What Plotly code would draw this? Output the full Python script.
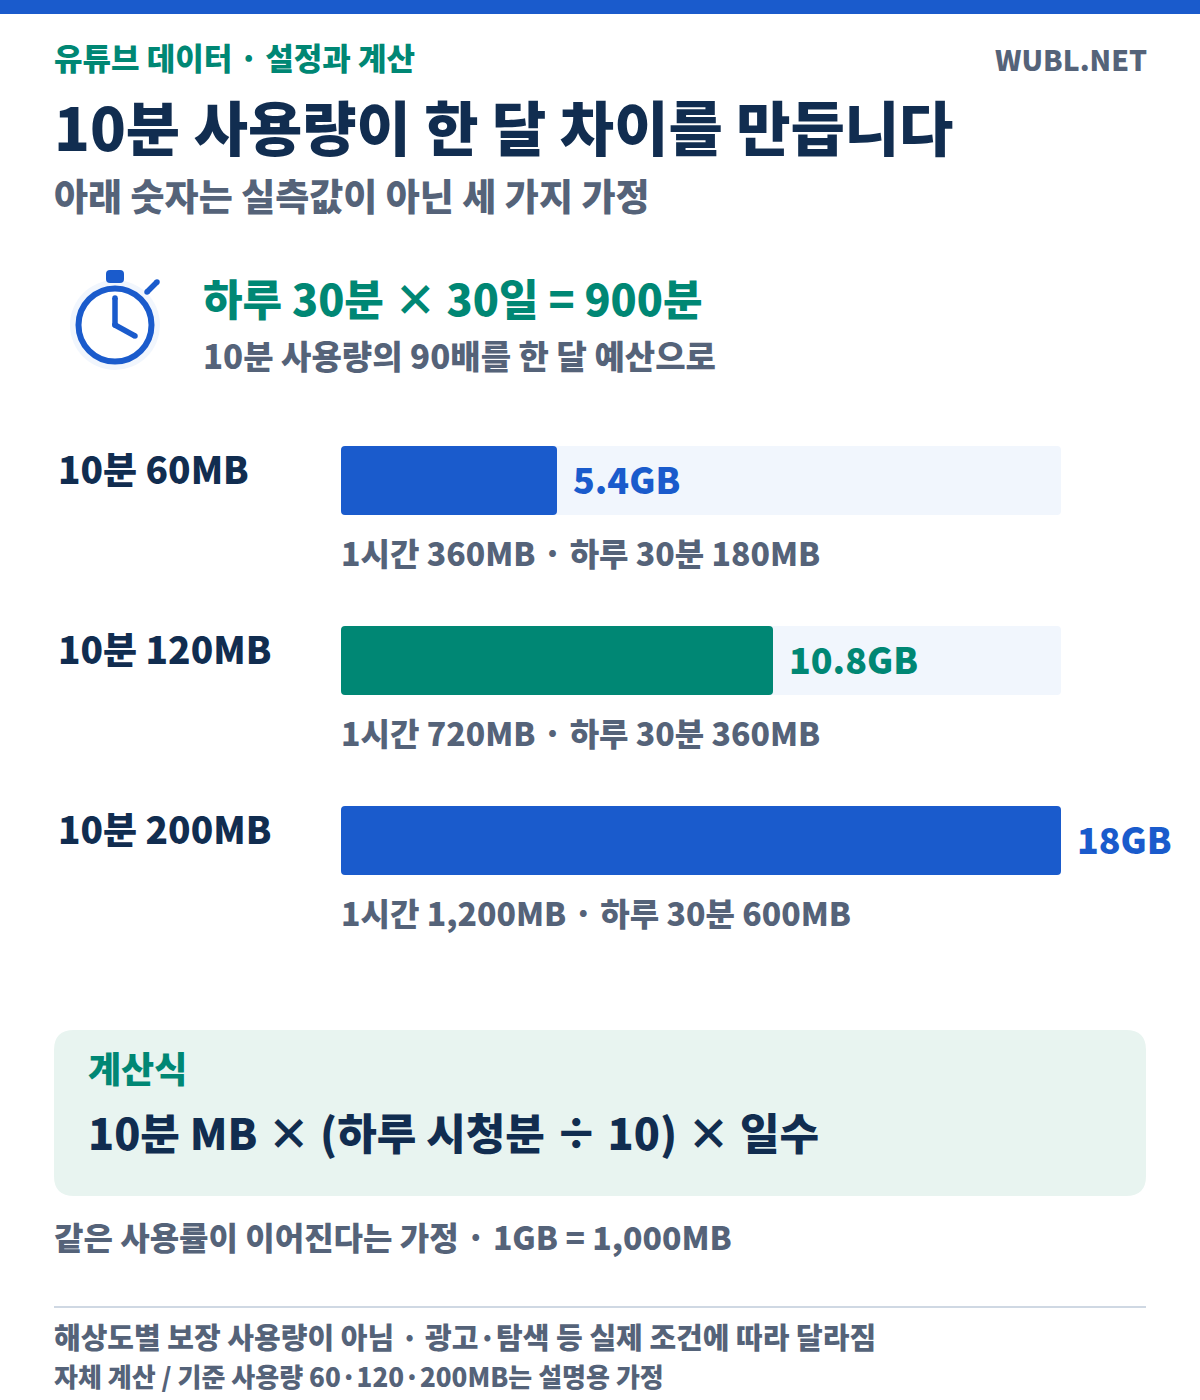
import plotly.graph_objects as go

W = 1200
H = 1400
FONT = "Noto Sans CJK KR"
WEIGHT = 800
BLUE = "#1a5bcc"
GREEN = "#008774"
NAVY = "#112d50"
GRAY = "#556379"

categories = ["10분 60MB", "10분 120MB", "10분 200MB"]
monthly_gb = [5.4, 10.8, 18]
value_labels = ["5.4GB", "10.8GB", "18GB"]
bar_colors = [BLUE, GREEN, BLUE]
notes = ["1시간 360MB · 하루 30분 180MB",
         "1시간 720MB · 하루 30분 360MB",
         "1시간 1,200MB · 하루 30분 600MB"]
track_max = [18, 18, 18]


def px(x):
    return x / W


def py(y):
    return 1 - y / H


def label(text, x, y, size, color, anchor="left"):
    return dict(text=text, x=px(x), y=py(y - 2), xref="paper", yref="paper",
                xanchor=anchor, yanchor="middle", showarrow=False, borderpad=0,
                font=dict(family=FONT, size=size, color=color, weight=WEIGHT))


def rect(x0, y0, x1, y1, color):
    return dict(type="rect", xref="paper", yref="paper", layer="below",
                x0=px(x0), x1=px(x1), y0=py(y0), y1=py(y1),
                fillcolor=color, line_width=0)


def circle(cx, cy, r, fill, line_color=None, line_width=0, layer="below"):
    return dict(type="circle", xref="paper", yref="paper", layer=layer,
                x0=px(cx - r), x1=px(cx + r), y0=py(cy - r), y1=py(cy + r),
                fillcolor=fill, line=dict(color=line_color, width=line_width))


def stroke(x0, y0, x1, y1, color, width):
    # round caps are faked with a dot on each end
    return [dict(type="line", xref="paper", yref="paper", x0=px(x0), x1=px(x1),
                 y0=py(y0), y1=py(y1), line=dict(color=color, width=width)),
            circle(x0, y0, width / 2, color, layer="above"),
            circle(x1, y1, width / 2, color, layer="above")]


def round_rect(x0, y0, x1, y1, r, color):
    p = (f"M {px(x0 + r)} {py(y0)} L {px(x1 - r)} {py(y0)} "
         f"Q {px(x1)} {py(y0)} {px(x1)} {py(y0 + r)} L {px(x1)} {py(y1 - r)} "
         f"Q {px(x1)} {py(y1)} {px(x1 - r)} {py(y1)} L {px(x0 + r)} {py(y1)} "
         f"Q {px(x0)} {py(y1)} {px(x0)} {py(y1 - r)} L {px(x0)} {py(y0 + r)} "
         f"Q {px(x0)} {py(y0)} {px(x0 + r)} {py(y0)} Z")
    return dict(type="path", xref="paper", yref="paper", layer="below", path=p,
                fillcolor=color, line_width=0)


def corner_mask(x, y, dy, r=4):
    # plotly only rounds the far end of a bar, so the near corners get a white notch
    return dict(type="path", xref="paper", yref="paper", layer="above",
                path=(f"M {px(x)} {py(y)} L {px(x + r)} {py(y)} "
                      f"Q {px(x)} {py(y)} {px(x)} {py(y + dy * r)} Z"),
                fillcolor="white", line_width=0)


fig = go.Figure()
fig.add_trace(go.Bar(y=categories, x=track_max, orientation="h", width=69 / 180,
                     marker=dict(color="#f1f6fd", line_width=0), hoverinfo="skip"))
# separate overlaying axis, otherwise only the longest bar gets its corners rounded
fig.add_trace(go.Bar(y=categories, x=monthly_gb, orientation="h", width=69 / 180,
                     xaxis="x2", marker=dict(color=bar_colors, line_width=0)))

annotations = [
    label("유튜브 데이터 · 설정과 계산", 53, 58, 31, GREEN),
    label("WUBL.NET", 1147.5, 60.5, 28.3, GRAY, "right"),
    label("10분 사용량이 한 달 차이를 만듭니다", 53, 128, 59, NAVY),
    label("아래 숫자는 실측값이 아닌 세 가지 가정", 53, 197, 37, GRAY),
    label("하루 30분 × 30일 = 900분", 202, 299, 43, GREEN),
    label("10분 사용량의 90배를 한 달 예산으로", 202, 357, 33, GRAY),
    label("계산식", 87, 1069, 36, GREEN),
    label("10분 MB × (하루 시청분 ÷ 10) × 일수", 87, 1133, 43, NAVY),
    label("같은 사용률이 이어진다는 가정 · 1GB = 1,000MB", 53, 1237.5, 32, GRAY),
    label("해상도별 보장 사용량이 아님 · 광고·탐색 등 실제 조건에 따라 달라짐", 53, 1338, 29, GRAY),
    label("자체 계산 / 기준 사용량 60·120·200MB는 설명용 가정", 53, 1377, 26, GRAY),
]
for i, name in enumerate(categories):
    annotations.append(label(name, 57, 470 + 180 * i, 37, NAVY))
    annotations.append(label(notes[i], 340, 554 + 180 * i, 32, GRAY))
    annotations.append(dict(text=value_labels[i], x=monthly_gb[i], y=name, xref="x", yref="y",
                            xanchor="left", yanchor="middle", xshift=15, yshift=3,
                            showarrow=False, borderpad=0,
                            font=dict(family=FONT, size=35.8, color=bar_colors[i], weight=WEIGHT)))

shapes = [
    rect(0, 0, W, 14, BLUE),
    rect(54, 1306, 1146, 1308, "#cfd8e3"),
    round_rect(54, 1030, 1146, 1196, 20, "#e8f4f0"),
    circle(115, 325, 45, "#f1f6fd"),
    round_rect(106, 270, 124, 283, 4, BLUE),
    circle(115, 325, 36.5, "white", BLUE, 6),
]
shapes += stroke(115, 298, 115, 325, BLUE, 5.5)
shapes += stroke(115, 325, 135, 336, BLUE, 5.5)
shapes += stroke(147, 292, 157, 282, BLUE, 5.5)
for i in range(3):
    shapes.append(corner_mask(341, 446 + 180 * i, 1))
    shapes.append(corner_mask(341, 515 + 180 * i, -1))

fig.update_layout(
    width=W, height=H, margin=dict(l=0, r=0, t=0, b=0),
    paper_bgcolor="white", plot_bgcolor="rgba(0,0,0,0)",
    barmode="overlay", barcornerradius=4, showlegend=False,
    xaxis=dict(domain=[px(341), px(1061)], range=[0, 18], visible=False, fixedrange=True),
    xaxis2=dict(domain=[px(341), px(1061)], range=[0, 18], visible=False, fixedrange=True,
                overlaying="x"),
    yaxis=dict(domain=[py(930.5), py(390.5)], range=[2.5, -0.5], visible=False,
               fixedrange=True, type="category"),
    annotations=annotations, shapes=shapes,
)

fig.write_html("out.html", config={"displayModeBar": False},
               post_script="document.body.style.margin='0';")
